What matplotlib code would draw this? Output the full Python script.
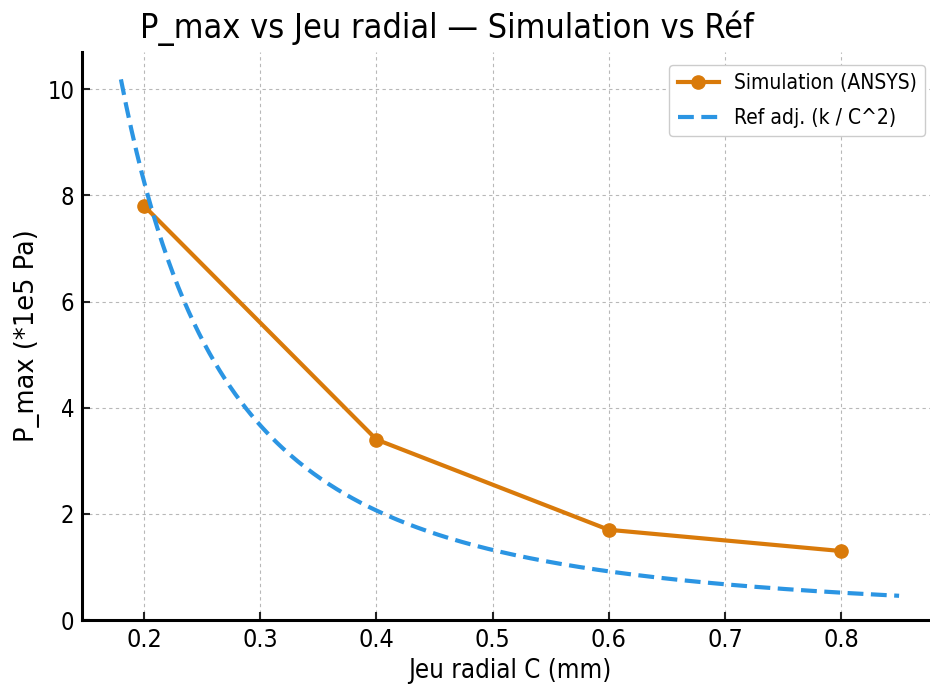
import numpy as np
import matplotlib
matplotlib.use("Agg")
import matplotlib.pyplot as plt

# Simulated maximum pressure vs radial clearance
clearance_mm = [0.2, 0.4, 0.6, 0.8]
p_max_sim = [7.8, 3.4, 1.7, 1.3]          # in 1e5 Pa

# Fitted reference model p = k / C^2
k_ref = 0.33
ref_c_min, ref_c_max = 0.18, 0.85

x_ticks = [0.2, 0.3, 0.4, 0.5, 0.6, 0.7, 0.8]
y_ticks = [0, 2, 4, 6, 8, 10]

title = "P_max vs Jeu radial — Simulation vs Réf"
xlabel = "Jeu radial C (mm)"
ylabel = "P_max (*1e5 Pa)"

plt.rcParams["font.family"] = ["DejaVu Sans"]
fig = plt.figure(figsize=(9.3, 6.93), dpi=100)
ax = fig.add_axes([0.0882, 0.1053, 0.9204, 0.8196])

c_ref = np.linspace(ref_c_min, ref_c_max, 300)
p_ref = k_ref / c_ref ** 2

ax.plot(clearance_mm, p_max_sim, color="#d97a0a", lw=3, marker="o", ms=9.5,
        label="Simulation (ANSYS)", zorder=3)
ax.plot(c_ref, p_ref, color="#2b95e3", lw=3, ls=(0, (3.8, 1.8)),
        label="Ref adj. (k / C^2)", zorder=3)

ax.set_xlim(0.1465, 0.8835)
ax.set_ylim(0, 10.7)
ax.set_xticks(x_ticks)
ax.set_yticks(y_ticks)
ax.set_xticklabels([f"{v:.1f}" for v in x_ticks], fontsize=18, stretch="condensed")
ax.set_yticklabels([str(v) for v in y_ticks], fontsize=17, stretch="condensed")

ax.grid(True, ls=(0, (3, 3)), color="#b8b8b8", lw=0.8)
ax.tick_params(direction="in", length=6, width=1.5, color="#222222")
ax.tick_params(axis="y", pad=5.5)
ax.tick_params(axis="x", pad=6)
for s in ("top", "right"):
    ax.spines[s].set_visible(False)
for s in ("left", "bottom"):
    ax.spines[s].set_linewidth(2.2)

fig.text(447 / 930, 1 - 38 / 693, title, fontsize=24.5, stretch="condensed",
         ha="center", va="baseline")
ax.set_xlabel(xlabel, fontsize=18.5, stretch="condensed", labelpad=4)
ax.set_ylabel(ylabel, fontsize=18.5, labelpad=5)

leg = ax.legend(loc="upper right", prop={"size": 15, "stretch": "condensed"},
                frameon=True, fancybox=True, edgecolor="#cccccc", framealpha=1,
                handlelength=2.0, handletextpad=0.7, labelspacing=0.7,
                borderaxespad=0.62)

fig.savefig("out.png", dpi=100)
